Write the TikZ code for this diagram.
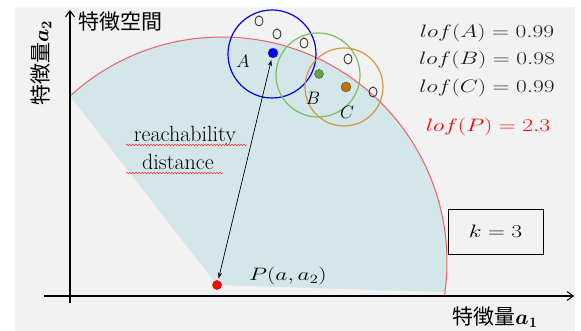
\RequirePackage{fix-cm}
\documentclass[tikz,border=0pt]{standalone}
\usepackage{fontspec}
\usepackage{bm}
\newfontfamily\jpfont{Noto Sans CJK JP}
\usetikzlibrary{arrows.meta,calc,shapes.geometric,decorations.pathmorphing}
\definecolor{bggray}{RGB}{242,242,242}
\definecolor{reachfill}{RGB}{211,230,234}
\definecolor{arcred}{RGB}{238,96,96}
\definecolor{dotgreen}{RGB}{96,168,64}
\definecolor{ringgreen}{RGB}{120,190,100}
\definecolor{ringorange}{RGB}{214,150,60}
\definecolor{dotorange}{RGB}{196,112,8}
\definecolor{loftext}{RGB}{30,30,30}
\newcommand{\wide}[1]{\scalebox{1.3}[1]{#1}}

\begin{document}
\begin{tikzpicture}[
  x=1pt, y=1pt,
  axis/.style={line width=1.1pt, -{Straight Barb[length=6pt, width=9pt]}},
  ring/.style={line width=1.2pt},
  dot/.style={circle, inner sep=0pt, minimum size=10pt, draw=black!70, line width=0.4pt},
  hollow/.style={ellipse, inner sep=0pt, minimum width=8pt, minimum height=10pt, draw=black!80, line width=0.9pt},
  ptlab/.style={font=\fontsize{18}{21}\selectfont},
  loflab/.style={font=\fontsize{18}{21}\selectfont, text=loftext},
  jplab/.style={font=\jpfont\fontsize{21}{24}\selectfont},
  wavy/.style={red!80, line width=0.5pt, decorate,
               decoration={snake, amplitude=0.8pt, segment length=3pt}},
  arr/.style={{Stealth[length=6pt, width=4pt]}-{Stealth[length=6pt, width=4pt]}, line width=0.7pt,
              shorten <=2pt, shorten >=2pt}
]
\useasboundingbox (0,0) rectangle (581,331);
\fill[white] (0,0) rectangle (581,331);
\fill[bggray] (15,0) rectangle (575,324);
% ----- reachable region and its border -----
\coordinate (cen) at (222,69);
\fill[reachfill] (217,46) -- ($(cen)+(132.5:225)$) arc[start angle=132.5, end angle=-7.7, radius=225] -- cycle;
\draw[arcred, line width=1pt] ($(cen)+(132.5:225)$) arc[start angle=132.5, end angle=-8.7, radius=225];
% ----- axes -----
\draw[axis] (70,28) -- (70,321);
\draw[axis] (44,35) -- (574,35);
\node[jplab] (space) at (120,309) {特徴空間};
\node[jplab, rotate=90] (ylab) at (41,268) {特徴量$\bm{a}_{\bm{2}}$};
\node[jplab] (xlab) at (495,14) {特徴量$\bm{a}_{\bm{1}}$};
% ----- neighbourhoods -----
\draw[ring, blue] (272,277) circle[radius=44];
\draw[ring, ringgreen] (318,256) circle[radius=42];
\draw[ring, ringorange] (344,244) circle[radius=39];
\node[dot, fill=blue] (a) at (273,278) {};
\node[dot, fill=dotgreen, minimum size=9pt] (b) at (319,257) {};
\node[dot, fill=dotorange] (c) at (346,244) {};
\foreach \nm/\px/\py in {o1/259/310, o2/277/297, o3/304/288, o4/348/272, o5/373/239}
  {\node[hollow] (\nm) at (\px,\py) {};}
\node[ptlab] (alab) at (243,270) {$A$};
\node[ptlab] (blab) at (313,233) {$B$};
\node[ptlab] (clab) at (347,219) {$C$};
% ----- outlier P -----
\node[dot, fill=red, draw=red!80!black, minimum size=9pt] (p) at (217,46) {};
\node[ptlab] (plab) at (288,55) {\wide{$P(a,a_2)$}};
\draw[arr] (p) -- (a);
\node[font=\fontsize{22}{25}\selectfont, anchor=base] (reach) at (185,189) {reachability};
\node[font=\fontsize{22}{25}\selectfont, anchor=base] (dist) at (178,161) {distance};
\draw[wavy] (126,186) -- (247,186);
\draw[wavy] (126,158) -- (223,158);
% ----- scores -----
\node[loflab] (lofa) at (487,298) {\wide{$lof(A) = 0.99$}};
\node[loflab] (lofb) at (487,271) {\wide{$lof(B) = 0.98$}};
\node[loflab] (lofc) at (487,243) {\wide{$lof(C) = 0.99$}};
\node[loflab, text=red] (lofp) at (488,204) {\wide{$lof(P) = 2.3$}};
\node[draw, line width=0.9pt, minimum width=95pt, minimum height=45pt, font=\fontsize{18}{21}\selectfont] (k) at (495.5,99.5) {\wide{$k = 3$}};
\end{tikzpicture}
\end{document}
